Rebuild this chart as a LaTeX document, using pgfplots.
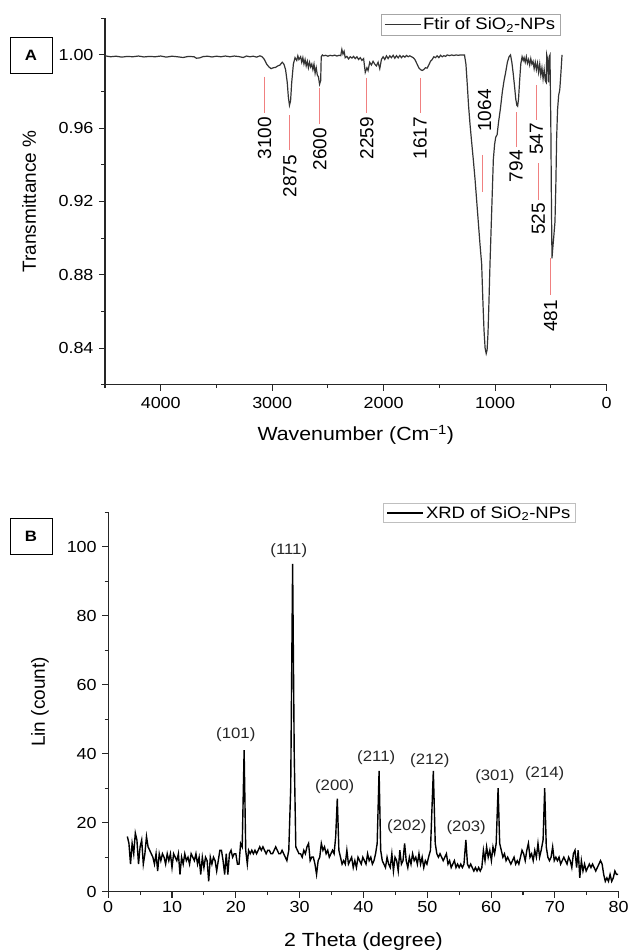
\documentclass[border=0pt]{standalone}
\usepackage{fontspec}
\setmainfont{Liberation Sans}[FakeStretch=1.12]
\newfontfamily\plainsans{Liberation Sans}
\usepackage{pgfplots}
\usepackage{pgfplotstable}
\pgfplotsset{compat=1.18}
\definecolor{ftirline}{HTML}{333333}
\definecolor{peakred}{HTML}{F08080}
\newcommand{\fs}[1]{\fontsize{#1}{#1}\selectfont}

\pgfplotstableread{
wn T
4500 0.9995
4450 0.9990
4400 0.9993
4350 0.9988
4300 0.9992
4250 0.9990
4200 0.9994
4150 0.9989
4100 0.9992
4050 0.9990
4000 0.9994
3950 0.9988
3900 0.9993
3850 0.9990
3800 0.9986
3750 0.9992
3700 0.9990
3680 0.9982
3650 0.9984
3620 0.9991
3580 0.9993
3540 0.9989
3500 0.9993
3460 0.9990
3420 0.9994
3380 0.9990
3340 0.9994
3300 0.9991
3260 0.9986
3230 0.9994
3200 0.9990
3170 0.9993
3140 0.9988
3110 0.9995
3090 0.9990
3070 0.9975
3050 0.9950
3030 0.9935
3010 0.9925
2990 0.9930
2970 0.9932
2950 0.9940
2930 0.9945
2910 0.9960
2895 0.9950
2880 0.9920
2865 0.9850
2855 0.9770
2845 0.9725
2835 0.9750
2825 0.9850
2810 0.9950
2795 0.9985
2780 0.9970
2770 0.9995
2760 0.9975
2745 0.9990
2735 0.9960
2725 0.9985
2715 0.9950
2705 0.9975
2695 0.9940
2685 0.9965
2675 0.9930
2665 0.9960
2655 0.9935
2645 0.9950
2635 0.9920
2625 0.9950
2615 0.9900
2605 0.9930
2595 0.9890
2585 0.9880
2575 0.9840
2565 0.9860
2560 0.9990
2550 1.0000
2540 0.9995
2520 0.9998
2500 0.9993
2480 0.9998
2460 0.9995
2440 0.9999
2420 0.9994
2400 0.9998
2385 0.9996
2375 1.0030
2365 1.0005
2355 1.0020
2345 0.9985
2330 0.9992
2315 0.9978
2300 0.9990
2285 0.9983
2270 0.9992
2255 0.9980
2240 0.9990
2225 0.9975
2210 0.9985
2195 0.9970
2180 0.9980
2165 0.9905
2150 0.9930
2140 0.9915
2125 0.9960
2110 0.9945
2095 0.9965
2080 0.9950
2065 0.9940
2050 0.9960
2035 0.9925
2020 0.9975
2005 0.9990
1990 0.9975
1975 0.9995
1960 0.9980
1945 0.9995
1930 0.9985
1915 0.9998
1900 0.9982
1885 0.9996
1870 0.9984
1855 0.9997
1840 0.9985
1825 0.9995
1810 0.9988
1795 0.9997
1780 0.9990
1765 0.9995
1750 0.9990
1735 0.9985
1720 0.9975
1700 0.9950
1685 0.9930
1670 0.9920
1655 0.9915
1640 0.9920
1625 0.9930
1610 0.9928
1595 0.9945
1580 0.9965
1565 0.9975
1550 0.9990
1535 0.9985
1520 0.9995
1505 0.9985
1490 0.9998
1475 0.9990
1460 0.9996
1445 0.9992
1430 1.0000
1410 0.9996
1390 1.0000
1370 0.9997
1350 1.0000
1330 0.9998
1310 1.0000
1290 0.9999
1275 1.0000
1262 0.9950
1250 0.9840
1238 0.9720
1225 0.9620
1210 0.9520
1196 0.9430
1180 0.9320
1165 0.9200
1150 0.9080
1135 0.8960
1121 0.8860
1110 0.8660
1100 0.8500
1090 0.8400
1080 0.8370
1072 0.8390
1064 0.8480
1055 0.8660
1046 0.8860
1036 0.9050
1026 0.9240
1016 0.9430
1005 0.9510
995 0.9550
982 0.9565
970 0.9630
952 0.9710
935 0.9800
920 0.9860
907 0.9900
890 0.9960
875 0.9990
862 1.0000
850 0.9960
838 0.9900
826 0.9830
815 0.9760
805 0.9725
798 0.9720
790 0.9760
780 0.9860
770 0.9950
758 0.9990
748 0.9970
740 0.9985
730 0.9960
720 0.9990
710 0.9955
700 0.9975
690 0.9945
680 0.9980
670 0.9950
660 0.9965
650 0.9925
640 0.9960
630 0.9920
620 0.9955
610 0.9905
600 0.9950
590 0.9890
580 0.9930
570 0.9870
560 0.9920
550 0.9860
542 0.9850
537 1.0000
530 0.9980
522 0.9850
515 0.9990
508 1.0000
500 0.9600
495 0.9200
490 0.8890
485 0.8930
475 0.9000
463 0.9090
455 0.9300
448 0.9550
440 0.9700
430 0.9780
420 0.9810
410 0.9900
400 1.0000
}\ftirdata

\pgfplotstableread{
tt I
3.0 16
3.25 14
3.5 8
3.75 14
4.0 11
4.25 17
4.5 15
4.75 8
5.0 13
5.25 15
5.5 8
5.75 11
6.0 16
6.25 13
6.5 12
6.75 11
7.0 10
7.25 8
7.5 11
7.75 6
8.0 11
8.25 9
8.5 11
8.75 10
9.0 8
9.25 11
9.5 9
9.75 11
10.0 7
10.25 11
10.5 10
10.75 9
11.0 11
11.25 5
11.5 10
11.75 8
12.0 11
12.25 9
12.5 10
12.75 8
13.0 11
13.25 10
13.5 9
13.75 11
14.0 8
14.25 10
14.5 5
14.75 10
15.0 7
15.25 10
15.5 9
15.75 3
16.0 10
16.25 8
16.5 10
16.75 9
17.0 6
17.25 9
17.5 12
17.75 12
18.0 9
18.25 5
18.5 11
18.75 5
19.0 11
19.25 12
19.5 10
19.75 11
20.0 11
20.25 8
20.5 8
20.75 14
21.0 13
21.3 41
21.55 12
21.8 8
22.0 12
22.25 11
22.5 12
22.75 11
23.0 12
23.25 11
23.5 12
23.75 13
24.0 12
24.25 13
24.5 12
24.75 11
25.0 12
25.25 12
25.5 11
25.75 11
26.0 12
26.25 13
26.5 12
26.75 11
27.0 11
27.25 12
27.5 11
27.75 10
28.0 9
28.3 12
28.6 30
28.9 95
29.15 40
29.4 13
29.65 12
29.9 11
30.15 11
30.4 10
30.65 12
30.9 11
31.15 13
31.4 14
31.65 9
31.9 10
32.15 10
32.4 8
32.65 5
32.9 9
33.15 10
33.4 14
33.65 12
33.9 13
34.15 11
34.4 12
34.65 10
34.9 11
35.15 12
35.4 11
35.65 16
35.9 27
36.15 12
36.4 10
36.65 8
36.9 9
37.15 8
37.4 12
37.65 8
37.9 9
38.15 10
38.4 7
38.65 9
38.9 7
39.15 10
39.4 9
39.65 8
39.9 10
40.15 9
40.4 8
40.65 11
40.9 9
41.15 10
41.4 8
41.65 9
41.9 11
42.15 14
42.45 35
42.7 12
42.95 9
43.2 8
43.45 7
43.7 10
43.95 8
44.2 7
44.45 11
44.7 6
44.95 10
45.2 9
45.45 6
45.7 12
45.95 8
46.2 9
46.45 14
46.7 9
46.95 7
47.2 10
47.45 8
47.7 11
47.95 9
48.2 10
48.45 8
48.7 11
48.95 8
49.2 10
49.45 7
49.7 9
49.95 8
50.2 10
50.5 12
50.95 35
51.25 14
51.5 11
51.75 10
52.0 11
52.25 10
52.5 9
52.75 10
53.0 11
53.25 8
53.5 9
53.75 7
54.0 8
54.25 9
54.5 7
54.75 8
55.0 7
55.25 8
55.5 7
55.75 8
56.05 15
56.3 8
56.55 7
56.8 8
57.05 7
57.3 6
57.55 7
57.8 6
58.05 7
58.3 6
58.55 7
58.8 12
59.05 9
59.3 13
59.55 10
59.8 12
60.05 9
60.3 13
60.55 11
60.8 14
61.1 30
61.35 14
61.6 12
61.85 10
62.1 11
62.35 9
62.6 10
62.85 9
63.1 8
63.35 9
63.6 10
63.85 8
64.1 9
64.35 8
64.6 10
64.85 12
65.1 11
65.35 9
65.6 12
65.85 14
66.1 10
66.35 11
66.6 9
66.85 12
67.1 10
67.35 14
67.6 10
67.85 12
68.15 15
68.4 30
68.65 13
68.9 10
69.15 9
69.4 10
69.65 13
69.9 9
70.15 10
70.4 9
70.65 10
70.9 8
71.15 9
71.4 10
71.65 9
71.9 8
72.15 10
72.4 9
72.65 7
72.9 11
73.15 12
73.4 7
73.65 12
73.9 4
74.15 9
74.4 6
74.65 8
74.9 6
75.15 7
75.4 8
75.65 7
75.9 8
76.15 7
76.4 6
76.65 7
76.9 8
77.15 9
77.4 8
77.65 5
77.9 3
78.15 4
78.4 3
78.65 5
78.9 3
79.15 4
79.4 6
79.65 5
79.9 5
}\xrddata

\pgfplotsset{
  panel/.style={
    scale only axis,
    anchor=south west,
    axis x line*=bottom, axis y line*=left,
    axis line style={-, line width=1.1pt, black!85},
    tick align=outside,
    major tick length=6pt, minor tick length=3.5pt,
    tick style={black!85, line width=1.1pt},
    tick label style={font=\fs{16}},
    yticklabel style={xshift=-2pt},
    xlabel style={font=\fs{19}},
    ylabel style={font=\plainsans\fs{19}},
    /pgf/number format/assume math mode=true,
    /pgf/number format/set thousands separator={},
    legend cell align=left,
    legend image code/.code={\draw[##1] (0pt,0pt) -- (36pt,0pt);},
  },
}

% peak marker: x, line top, line bottom, text top, label
\newcommand{\ftirpeak}[5]{%
  \draw[peakred, line width=0.9pt] (axis cs:#1,#2) -- (axis cs:#1,#3);
  \node[rotate=90, anchor=east, font=\plainsans\fs{19}, inner sep=0pt] at (axis cs:#1,#4) {#5};
}

\begin{document}
\begin{tikzpicture}[x=1pt, y=1pt]
\useasboundingbox (0,0) rectangle (630,952);

% ---- panel A: FTIR ----
\begin{axis}[panel,
  at={(105pt,567.3pt)}, width=501.6pt, height=366.4pt,
  x dir=reverse, xmin=0, xmax=4500, ymin=0.82, ymax=1.02,
  xtick={0,1000,2000,3000,4000}, minor xtick={500,1500,2500,3500,4500},
  ytick={0.84,0.88,0.92,0.96,1.00}, minor ytick={0.82,0.86,0.90,0.94,0.98,1.02},
  yticklabel style={/pgf/number format/fixed, /pgf/number format/fixed zerofill, /pgf/number format/precision=2},
  xticklabel style={yshift=-3pt},
  xlabel={Wavenumber (Cm\textsuperscript{−1})},
  ylabel={Transmittance \%},
  xlabel style={at={(axis description cs:0.5,-0.137)}, anchor=center},
  ylabel style={at={(axis description cs:-0.1515,0.5)}, anchor=center},
  legend style={at={(axis description cs:0.7287,0.9825)}, anchor=center,
    draw=gray!70, line width=0.6pt, font=\fs{16.5}, inner xsep=3pt, inner ysep=1.5pt},
]
\addplot[ftirline, line width=1.2pt] table[x=wn, y=T] {\ftirdata};
\addlegendentry{Ftir of SiO\textsubscript{2}-NPs}
\ftirpeak{3069}{0.9881}{0.9685}{0.9661}{3100}
\ftirpeak{2841}{0.9672}{0.9481}{0.9454}{2875}
\ftirpeak{2572}{0.9820}{0.9623}{0.9601}{2600}
\ftirpeak{2152}{0.9876}{0.9683}{0.9661}{2259}
\ftirpeak{1674}{0.9876}{0.9683}{0.9661}{1617}
\ftirpeak{812}{0.9688}{0.9497}{0.9480}{794}
\ftirpeak{630}{0.9836}{0.9645}{0.9629}{547}
\ftirpeak{612}{0.9410}{0.9208}{0.9192}{525}
\ftirpeak{502}{0.8891}{0.8689}{0.8663}{481}
\draw[peakred, line width=0.9pt] (axis cs:1112,0.9454) -- (axis cs:1112,0.9252);
\node[rotate=90, anchor=west, font=\plainsans\fs{19}, inner sep=0pt] at (axis cs:1094,0.958) {1064};
\end{axis}

% ---- panel B: XRD ----
\begin{axis}[panel,
  at={(108.2pt,60.3pt)}, width=510.5pt, height=379.5pt,
  xmin=0, xmax=80, ymin=0, ymax=110,
  xtick={0,10,...,80}, minor xtick={5,15,...,75},
  ytick={0,20,...,100}, minor ytick={10,30,...,110},
  xlabel={2 Theta (degree)},
  ylabel={Lin (count)},
  xlabel style={at={(axis description cs:0.5,-0.132)}, anchor=center},
  ylabel style={at={(axis description cs:-0.1335,0.5)}, anchor=center},
  legend style={at={(axis description cs:0.7273,0.998)}, anchor=center,
    draw=gray!50, line width=0.6pt, font=\fs{16.5}, inner xsep=3pt, inner ysep=0.5pt},
]
\addplot[black, line width=1.4pt] table[x=tt, y=I] {\xrddata};
\addlegendentry{XRD of SiO\textsubscript{2}-NPs}
\begin{scope}[every node/.style={font=\fs{15}, text=black!85}]
\node at (axis cs:20.0,45.5) {(101)};
\node at (axis cs:28.3,99) {(111)};
\node at (axis cs:35.5,30.5) {(200)};
\node at (axis cs:42.0,38.8) {(211)};
\node at (axis cs:50.4,38.0) {(212)};
\node at (axis cs:46.8,18.8) {(202)};
\node at (axis cs:56.1,18.5) {(203)};
\node at (axis cs:60.6,33.5) {(301)};
\node at (axis cs:68.4,34.3) {(214)};
\end{scope}
\end{axis}

% panel letters
\node[draw, line width=0.8pt, minimum width=42pt, minimum height=36pt, font=\fs{15}\bfseries] at (31,897) {A};
\node[draw, line width=0.8pt, minimum width=42pt, minimum height=36pt, font=\fs{15}\bfseries] at (31,416) {B};
\end{tikzpicture}
\end{document}
